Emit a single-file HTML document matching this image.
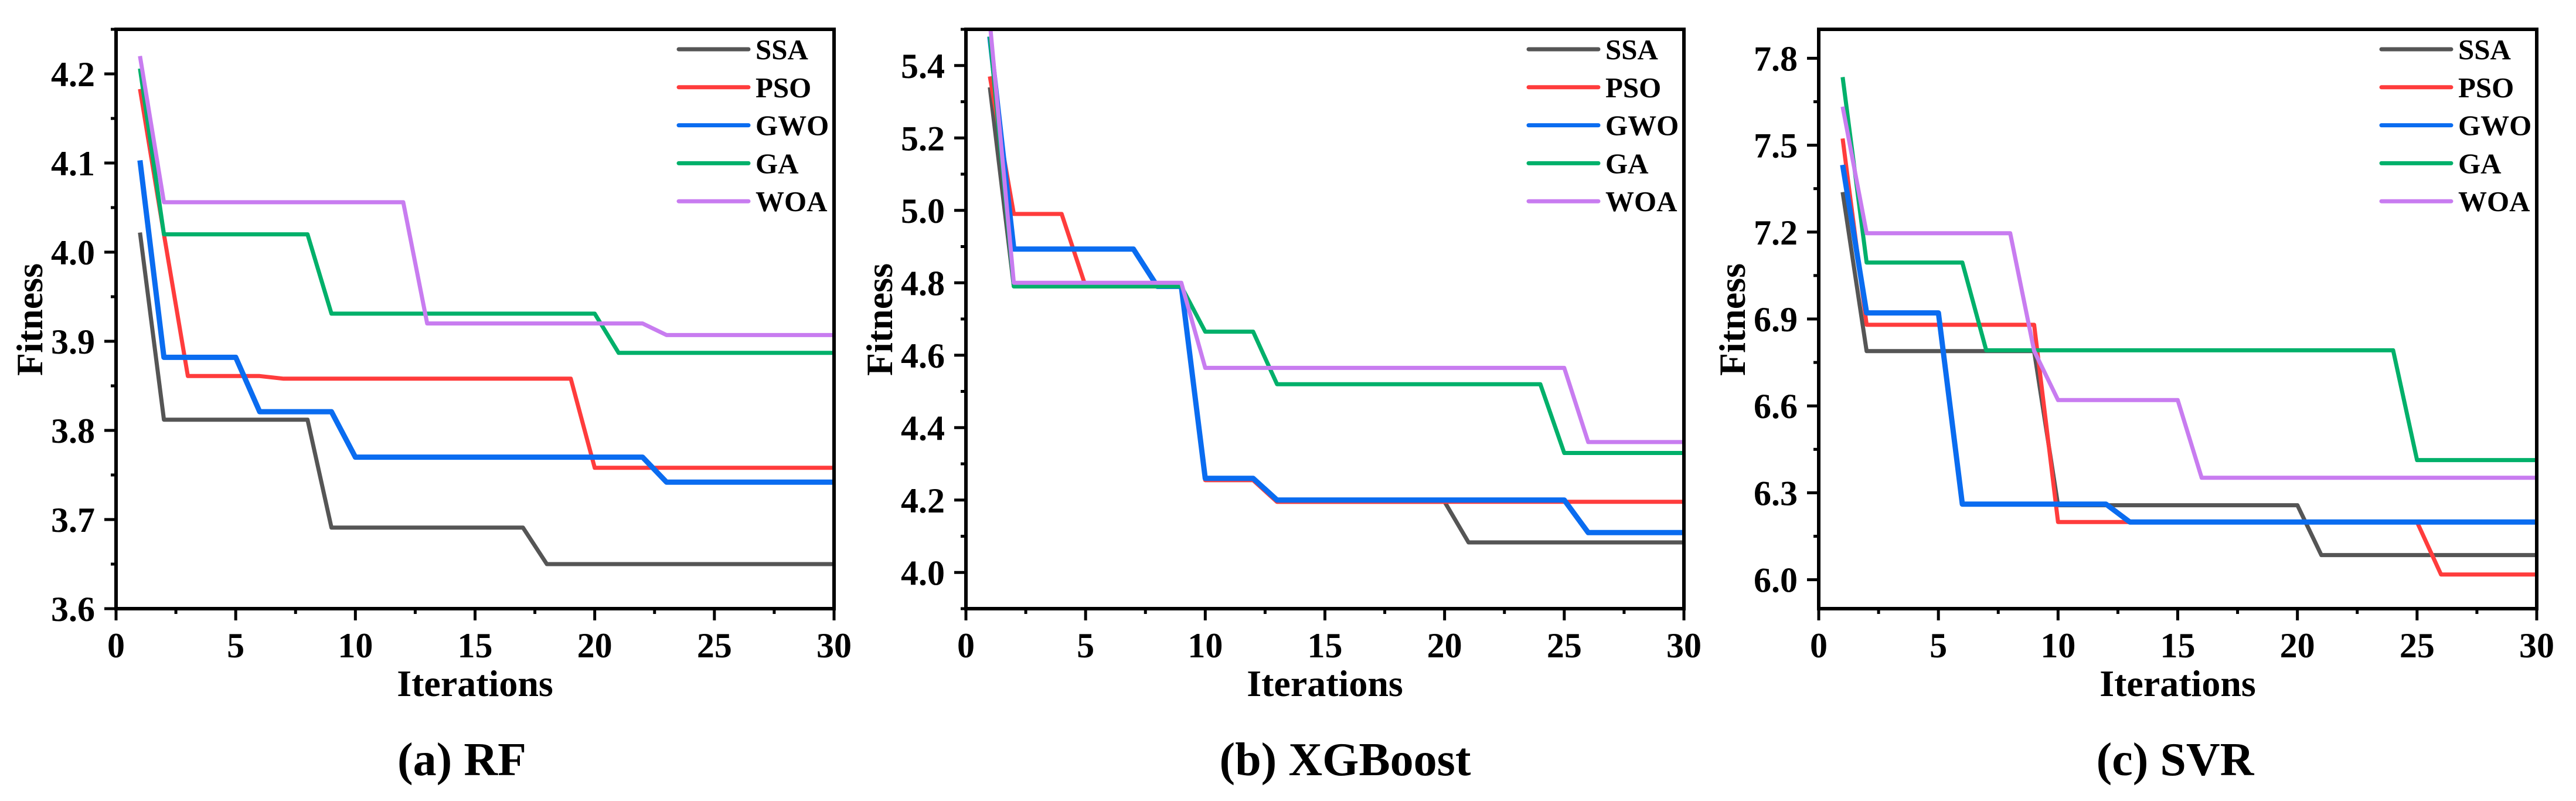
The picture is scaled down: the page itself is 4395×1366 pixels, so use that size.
<!DOCTYPE html>
<html><head><meta charset="utf-8">
<style>
html,body{margin:0;padding:0;background:#fff;}
svg{display:block;}
text{font-family:"Liberation Serif",serif;font-weight:bold;fill:#000;}
</style></head>
<body>
<svg id="fig" width="4395" height="1366" viewBox="0 0 4395 1366" xmlns="http://www.w3.org/2000/svg"></svg>
<script>
const seriesNames = ["SSA","PSO","GWO","GA","WOA"];
const seriesColors = ["#555555","#ff3c3c","#0a6cf0","#00b06a","#c87cf0"];
const iterations = Array.from({length:30},(_,i)=>i+1);

function steps(segs){ // segs: [[fromIter, value], ...] piecewise constant
  const out=[];
  for(let it=1;it<=30;it++){let v=segs[0][1];for(const s of segs){if(it>=s[0])v=s[1];}out.push(v);}
  return out;
}
// Panel (a) RF
const rfSSA = steps([[1,4.022],[2,3.812],[9,3.691],[18,3.650]]);
const rfPSO = steps([[1,4.183],[2,4.020],[3,3.861],[7,3.858],[20,3.758]]);
const rfGWO = steps([[1,4.103],[2,3.882],[6,3.821],[10,3.770],[23,3.742]]);
const rfGA  = steps([[1,4.206],[2,4.020],[9,3.931],[21,3.887]]);
const rfWOA = steps([[1,4.220],[2,4.056],[13,3.920],[23,3.907]]);
// Panel (b) XGBoost
const xgSSA = steps([[1,5.34],[2,4.79],[10,4.255],[13,4.195],[21,4.083]]);
const xgPSO = steps([[1,5.37],[2,4.99],[5,4.79],[10,4.255],[13,4.195]]);
const xgGWO = steps([[1,5.48],[2,4.893],[8,4.79],[10,4.26],[13,4.20],[26,4.11]]);
const xgGA  = steps([[1,5.48],[2,4.79],[10,4.665],[13,4.52],[25,4.33]]);
const xgWOA = steps([[1,5.52],[2,4.80],[10,4.565],[26,4.36]]);
// Panel (c) SVR
const svSSA = steps([[1,7.338],[2,6.789],[10,6.257],[21,6.085]]);
const svPSO = steps([[1,7.523],[2,6.880],[10,6.199],[26,6.018]]);
const svGWO = steps([[1,7.432],[2,6.921],[6,6.261],[13,6.199]]);
const svGA  = steps([[1,7.735],[2,7.095],[7,6.792],[25,6.413]]);
const svWOA = steps([[1,7.633],[2,7.196],[9,6.79],[10,6.62],[16,6.352]]);

const xTicks = [0,5,10,15,20,25,30];
const rfYTicks = [3.6,3.7,3.8,3.9,4.0,4.1,4.2];
const xgYTicks = [4.0,4.2,4.4,4.6,4.8,5.0,5.2,5.4];
const svYTicks = [6.0,6.3,6.6,6.9,7.2,7.5,7.8];

const panels = [
  {id:"rf", left:198, right:1423, ymin:3.6, ymax:4.25, ticks:rfYTicks, minor:0.05, dec:1,
   data:[rfSSA,rfPSO,rfGWO,rfGA,rfWOA], caption:"(a) RF", capX:788},
  {id:"xgboost", left:1648, right:2873, ymin:3.9, ymax:5.5, ticks:xgYTicks, minor:0.1, dec:1,
   data:[xgSSA,xgPSO,xgGWO,xgGA,xgWOA], caption:"(b) XGBoost", capX:2295},
  {id:"svr", left:3103, right:4328, ymin:5.9, ymax:7.9, ticks:svYTicks, minor:0.15, dec:1,
   data:[svSSA,svPSO,svGWO,svGA,svWOA], caption:"(c) SVR", capX:3711}
];
const TOP=50, BOTTOM=1038;
const NS="http://www.w3.org/2000/svg";
const svg=document.getElementById('fig');
function mk(tag,attrs,parent){const e=document.createElementNS(NS,tag);for(const k in attrs)e.setAttribute(k,attrs[k]);(parent||svg).appendChild(e);return e;}

panels.forEach(p=>{
  const g=mk('g',{});
  
  
  const xs=v=>p.left+(v-0)/(30-0)*(p.right-p.left);
  const ys=v=>BOTTOM-(v-p.ymin)/(p.ymax-p.ymin)*(BOTTOM-TOP);
  // clip
  const cp=mk('clipPath',{id:'clip-'+p.id},g);
  mk('rect',{x:p.left,y:TOP,width:p.right-p.left,height:BOTTOM-TOP},cp);
  // series
  const sg=mk('g',{'clip-path':'url(#clip-'+p.id+')'},g);
  p.data.forEach((arr,si)=>{
    const d=arr.map((v,i)=>(i?'L':'M')+xs(iterations[i]).toFixed(1)+','+ys(v).toFixed(1)).join(' ');
    const path=mk('path',{d:d,fill:'none',stroke:seriesColors[si],'stroke-width':si===2?9:7,'stroke-linejoin':'round'},sg);
    
    
  });
  // frame
  const fr=mk('rect',{x:p.left,y:TOP,width:p.right-p.left,height:BOTTOM-TOP,fill:'none',stroke:'#000','stroke-width':6},g);
  
  
  // x ticks
  const xa=mk('g',{},g);
  
  
  for(let v=0;v<=30;v+=2.5){
    const major=(v%5===0);
    mk('line',{x1:xs(v),x2:xs(v),y1:BOTTOM,y2:BOTTOM+(major?20:9),stroke:'#000','stroke-width':5},xa);
  }
  xTicks.forEach(v=>{
    const t=mk('text',{x:xs(v),y:1121,'text-anchor':'middle','font-size':60},xa);
    t.textContent=v;
    
    
  });
  const xt=mk('text',{x:(p.left+p.right)/2,y:1187,'text-anchor':'middle','font-size':64},g);
  xt.textContent='Iterations';
  
  
  // y ticks
  const ya=mk('g',{},g);
  
  
  const step=p.ticks[1]-p.ticks[0];
  for(let v=p.ticks[0]-p.minor*4;v<=p.ymax+1e-9;v+=p.minor){
    if(v<p.ymin-1e-9)continue;
    const k=Math.round((v-p.ticks[0])/p.minor);
    const major=(k%2===0);
    mk('line',{x1:p.left-(major?20:9),x2:p.left,y1:ys(v),y2:ys(v),stroke:'#000','stroke-width':5},ya);
  }
  p.ticks.forEach(v=>{
    const t=mk('text',{x:p.left-36,y:ys(v)+21,'text-anchor':'end','font-size':60},ya);
    t.textContent=v.toFixed(p.dec);
    
    
  });
  const yt=mk('text',{x:0,y:0,'text-anchor':'middle','font-size':64,transform:'translate('+(p.left-126)+',545) rotate(-90)'},g);
  yt.textContent='Fitness';
  
  
  // legend
  const lg=mk('g',{},g);
  
  
  const lx=p.right-265;
  seriesNames.forEach((n,si)=>{
    const y=84+si*64.8;
    const e=mk('g',{},lg);
    
    
    mk('line',{x1:lx,x2:lx+119,y1:y,y2:y,stroke:seriesColors[si],'stroke-width':7,'stroke-linecap':'round'},e);
    const t=mk('text',{x:lx+131,y:y+17,'font-size':49},e);
    t.textContent=n;
  });
  const cap=mk('text',{x:p.capX,y:1322,'text-anchor':'middle','font-size':80},g);
  cap.textContent=p.caption;
  
  
});
</script>
</body></html>
